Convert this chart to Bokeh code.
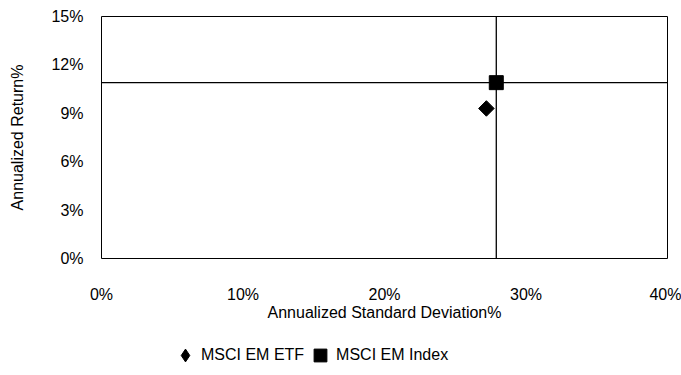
import math
from bokeh.plotting import figure
from bokeh.layouts import column
from bokeh.models import Span, Legend, LegendItem, FixedTicker, Range1d
from bokeh.embed import file_html
from bokeh.resources import INLINE

# data (percent)
etf_sd = [27.2]
etf_ret = [9.3]
idx_sd = [27.9]
idx_ret = [10.9]
x_ticks = [0, 10, 20, 30, 40]
x_tick_labels = ["0%", "10%", "20%", "30%", "40%"]
y_ticks = [0, 3, 6, 9, 12, 15]
y_tick_labels = ["0%", "3%", "6%", "9%", "12%", "15%"]
series_names = ["MSCI EM ETF", "MSCI EM Index"]

FONT = "Liberation Sans"

p = figure(width=681, height=330, output_backend="svg", toolbar_location=None,
           x_range=Range1d(0, 40), y_range=Range1d(0, 15),
           min_border_left=101, min_border_top=16, min_border_right=14, min_border_bottom=72)
p.grid.visible = False
p.outline_line_color = "black"
p.outline_line_width = 1
p.background_fill_color = "white"

for ax in (p.xaxis[0], p.yaxis[0]):
    ax.axis_line_color = None
    ax.major_tick_line_color = None
    ax.major_tick_out = 0
    ax.major_tick_in = 0
    ax.minor_tick_line_color = None
    ax.major_label_text_font = FONT
    ax.major_label_text_font_size = "16px"
    ax.major_label_text_color = "black"
    ax.axis_label_text_font = FONT
    ax.axis_label_text_font_size = "16px"
    ax.axis_label_text_font_style = "normal"
    ax.axis_label_text_color = "black"

p.xaxis.ticker = FixedTicker(ticks=x_ticks)
p.xaxis.major_label_overrides = dict(zip(x_ticks, x_tick_labels))
p.yaxis.ticker = FixedTicker(ticks=y_ticks)
p.yaxis.major_label_overrides = dict(zip(y_ticks, y_tick_labels))
p.xaxis.axis_label = "Annualized Standard Deviation%"
p.yaxis.axis_label = "Annualized Return%"
p.xaxis.major_label_standoff = 27
p.xaxis.axis_label_standoff = -2
p.yaxis.major_label_standoff = 18
p.yaxis.axis_label_standoff = 22

# crosshair at the index
p.add_layout(Span(location=idx_sd[0], dimension="height", line_color="black", line_width=1.3))
p.add_layout(Span(location=idx_ret[0], dimension="width", line_color="black", line_width=1.3))

p.scatter(x=etf_sd, y=etf_ret, marker="square", angle=math.pi / 4, size=11, color="black")
p.scatter(x=idx_sd, y=idx_ret, marker="square", size=14, color="black")

# legend strip below the chart (its glyphs fall outside this strip's ranges)
lg = figure(width=681, height=45, output_backend="svg", toolbar_location=None,
            x_range=Range1d(0, 1), y_range=Range1d(0, 1),
            min_border=0, outline_line_color=None)
lg.axis.visible = False
lg.grid.visible = False
l1 = lg.scatter(x=etf_sd, y=etf_ret, marker="diamond", size=14, color="black")
l2 = lg.scatter(x=idx_sd, y=idx_ret, marker="square", size=12, color="black")
legend = Legend(items=[LegendItem(label=series_names[0], renderers=[l1]),
                       LegendItem(label=series_names[1], renderers=[l2])],
                orientation="horizontal", location=(68, 4),
                label_text_font=FONT, label_text_font_size="16px", label_text_color="black",
                glyph_width=32, glyph_height=32, label_standoff=0, spacing=0,
                padding=0, margin=0, border_line_color=None, background_fill_alpha=0)
lg.add_layout(legend)

open("out.html", "w").write(file_html(column(p, lg, spacing=0), INLINE))
